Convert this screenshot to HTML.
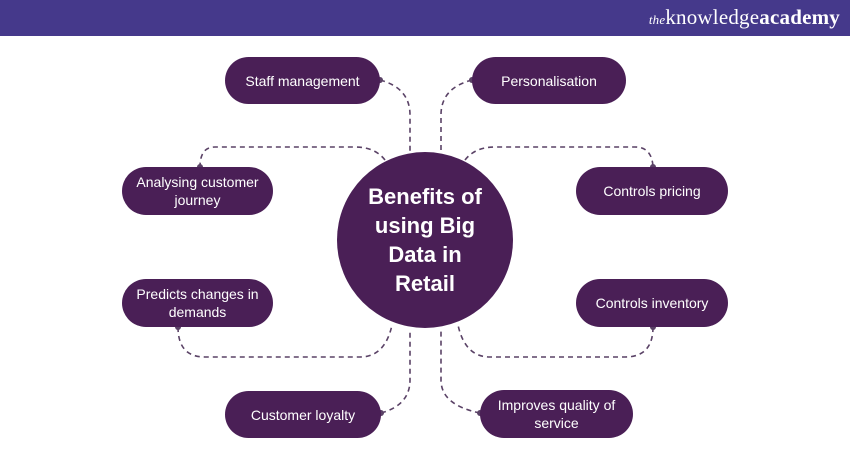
<!DOCTYPE html>
<html><head><meta charset="utf-8"><style>
body{margin:0;width:850px;height:450px;background:#fff;overflow:hidden;font-family:"Liberation Sans",sans-serif;position:relative}
.hdr{position:absolute;left:0;top:0;width:850px;height:36px;background:#45398b}
.logo{position:absolute;right:10px;top:5px;color:#fff;font-family:"Liberation Serif",serif;font-size:21px;letter-spacing:0.2px}
.logo i{font-size:13px}
.n{position:absolute;background:#4a1f56;color:#fff;border-radius:24px;display:flex;align-items:center;justify-content:center;text-align:center;font-size:14px;line-height:18px;font-weight:500}
.c{position:absolute;left:337px;top:152px;width:176px;height:176px;border-radius:50%;background:#4a1f56;color:#fff;display:flex;align-items:center;justify-content:center;text-align:center;font-weight:bold;font-size:22px;line-height:29px}
svg{position:absolute;left:0;top:0}
</style></head><body>
<div class="hdr"><div class="logo"><i>the</i>knowledge<b>academy</b></div></div>
<svg width="850" height="450"><g fill="none" stroke="#5a4266" stroke-width="1.6" stroke-dasharray="5,4">
<path d="M380 80 Q410 88 410 115 V152"/>
<path d="M472 80 Q441 88 441 115 V152"/>
<path d="M385 160 Q375 147 355 147 H215 Q200 147 200 167"/>
<path d="M465 160 Q475 147 495 147 H635 Q652 147 653 167"/>
<path d="M178 327 Q178 357 205 357 H360 Q385 357 392 325"/>
<path d="M653 327 Q653 357 625 357 H490 Q465 357 458 325"/>
<path d="M381 413 Q410 405 410 380 V330"/>
<path d="M480 413 Q441 405 441 380 V330"/>
</g><g fill="#5a4266">
<circle cx="380" cy="80" r="3"/><circle cx="472" cy="80" r="3"/>
<circle cx="200" cy="167" r="3"/><circle cx="653" cy="167" r="3"/>
<circle cx="178" cy="327" r="3"/><circle cx="653" cy="327" r="3"/>
<circle cx="381" cy="413" r="3"/><circle cx="480" cy="413" r="3"/></g></svg>
<div class="n" style="left:225px;top:57px;width:155px;height:47px">Staff management</div>
<div class="n" style="left:472px;top:57px;width:154px;height:47px">Personalisation</div>
<div class="n" style="left:122px;top:167px;width:151px;height:48px">Analysing customer<br>journey</div>
<div class="n" style="left:576px;top:167px;width:152px;height:48px">Controls pricing</div>
<div class="n" style="left:122px;top:279px;width:151px;height:48px">Predicts changes in<br>demands</div>
<div class="n" style="left:576px;top:279px;width:152px;height:48px">Controls inventory</div>
<div class="n" style="left:225px;top:391px;width:156px;height:47px">Customer loyalty</div>
<div class="n" style="left:480px;top:390px;width:153px;height:48px">Improves quality of<br>service</div>
<div class="c">Benefits of<br>using Big<br>Data in<br>Retail</div>
</body></html>
